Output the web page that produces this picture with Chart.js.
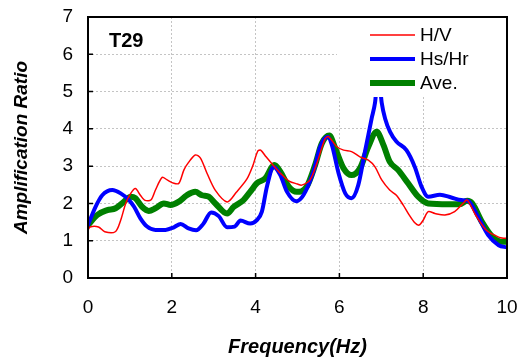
<!DOCTYPE html>
<html>
<head>
<meta charset="utf-8">
<script src="https://cdn.jsdelivr.net/npm/chart.js@4.4.0/dist/chart.umd.min.js"></script>
<style>
    html, body { margin: 0; padding: 0; background: #fff; }
</style>
</head>
<body>
<canvas id="ampChart" width="520" height="362"></canvas>
<script>
// Station name shown in the corner
const stationLabel = 'T29';

// H/V spectral ratio
const hvFreq = [0, 0.05, 0.25, 0.4, 0.65, 0.78, 0.9, 1.02, 1.13, 1.25, 1.35, 1.5, 1.61, 1.77, 1.89, 2.05, 2.17, 2.29, 2.4, 2.56, 2.68, 2.84, 3.04, 3.32, 3.54, 3.79, 3.93, 4.05, 4.12, 4.25, 4.4, 4.6, 4.8, 5.0, 5.1, 5.3, 5.46, 5.66, 5.74, 5.94, 6.1, 6.29, 6.49, 6.69, 6.85, 7.01, 7.2, 7.36, 7.52, 7.66, 7.8, 7.9, 8.0, 8.12, 8.28, 8.52, 8.75, 8.95, 9.05, 9.25, 9.5, 9.74, 9.88, 10];
const hvRatio = [1.28, 1.37, 1.37, 1.24, 1.24, 1.55, 2.0, 2.27, 2.4, 2.22, 2.09, 2.09, 2.36, 2.7, 2.63, 2.54, 2.54, 2.9, 3.1, 3.3, 3.22, 2.81, 2.35, 2.04, 2.3, 2.65, 3.0, 3.4, 3.43, 3.25, 3.05, 2.8, 2.6, 2.52, 2.49, 2.63, 3.07, 3.74, 3.79, 3.52, 3.43, 3.39, 3.25, 3.16, 2.98, 2.63, 2.36, 2.22, 1.96, 1.7, 1.48, 1.42, 1.55, 1.78, 1.73, 1.69, 1.78, 2.0, 2.09, 1.69, 1.29, 1.13, 1.07, 1.07];

// Hs/Hr spectral ratio
const hsFreq = [0, 0.18, 0.34, 0.58, 0.78, 0.98, 1.1, 1.25, 1.41, 1.61, 1.85, 2.05, 2.21, 2.4, 2.58, 2.75, 2.94, 3.12, 3.32, 3.5, 3.64, 3.87, 4.03, 4.15, 4.27, 4.43, 4.59, 4.75, 4.97, 5.14, 5.38, 5.54, 5.72, 5.82, 5.98, 6.14, 6.29, 6.45, 6.61, 6.69, 6.77, 6.85, 6.93, 7.01, 7.09, 7.21, 7.36, 7.6, 7.8, 7.96, 8.12, 8.4, 8.67, 8.91, 9.07, 9.31, 9.55, 9.8, 10];
const hsRatio = [1.42, 1.91, 2.22, 2.36, 2.27, 2.09, 1.91, 1.6, 1.38, 1.29, 1.29, 1.36, 1.45, 1.33, 1.28, 1.45, 1.76, 1.66, 1.36, 1.38, 1.54, 1.46, 1.55, 1.78, 2.45, 2.98, 2.76, 2.31, 2.06, 2.22, 2.85, 3.52, 3.79, 3.57, 2.81, 2.27, 2.14, 2.49, 3.39, 3.83, 4.28, 4.7, 5.5, 4.7, 4.28, 3.92, 3.66, 3.43, 2.98, 2.45, 2.18, 2.23, 2.16, 2.09, 2.07, 1.64, 1.15, 0.88, 0.82];

// Average of the two
const aveFreq = [0, 0.22, 0.46, 0.66, 0.86, 1.02, 1.13, 1.29, 1.45, 1.61, 1.81, 1.97, 2.17, 2.36, 2.56, 2.72, 2.88, 3.04, 3.32, 3.48, 3.71, 3.87, 4.03, 4.23, 4.45, 4.59, 4.79, 4.98, 5.22, 5.42, 5.58, 5.76, 5.9, 6.1, 6.29, 6.49, 6.69, 6.89, 7.05, 7.2, 7.4, 7.64, 7.88, 8.12, 8.6, 8.87, 9.05, 9.17, 9.4, 9.65, 9.88, 10];
const aveRatio = [1.42, 1.69, 1.82, 1.87, 2.05, 2.18, 2.14, 1.91, 1.8, 1.87, 2.0, 1.96, 2.05, 2.22, 2.31, 2.22, 2.18, 2.0, 1.73, 1.91, 2.09, 2.31, 2.54, 2.67, 3.03, 2.85, 2.45, 2.31, 2.45, 3.03, 3.61, 3.82, 3.48, 2.94, 2.76, 2.94, 3.52, 3.92, 3.57, 3.12, 2.9, 2.54, 2.18, 2.0, 1.98, 1.98, 2.07, 2.0, 1.51, 1.11, 0.97, 0.97];

const FONT = "'Liberation Sans', Arial, sans-serif";

function toPoints(xs, ys) {
    return xs.map((x, i) => ({ x: x, y: ys[i] }));
}

// frame, inward ticks, boxed legend and station label
const decorPlugin = {
    id: 'decor',
    afterDatasetsDraw(chart) {
        const ctx = chart.ctx;
        const area = chart.chartArea;
        const xs = chart.scales.x;
        const ys = chart.scales.y;

        ctx.save();
        // legend box (white, hides what is under it)
        const boxW = 170, boxH = 80;
        const bx = area.right - boxW, by = area.top;
        ctx.fillStyle = '#fff';
        ctx.fillRect(bx, by, boxW, boxH);

        chart.data.datasets.forEach((ds, i) => {
            const ly = by + 18 + i * 24;
            ctx.strokeStyle = ds.borderColor;
            ctx.lineWidth = ds.borderWidth;
            ctx.beginPath();
            ctx.moveTo(bx + 33, ly);
            ctx.lineTo(bx + 78, ly);
            ctx.stroke();
            ctx.fillStyle = '#000';
            ctx.font = '19px ' + FONT;
            ctx.textBaseline = 'middle';
            ctx.textAlign = 'left';
            ctx.fillText(ds.label, bx + 83, ly + 1);
        });

        // station label
        ctx.font = 'bold 20px ' + FONT;
        ctx.textBaseline = 'middle';
        ctx.fillText(stationLabel, area.left + 21, area.top + 24);

        // inward tick marks
        ctx.strokeStyle = '#000';
        ctx.lineWidth = 1.5;
        ctx.beginPath();
        ys.ticks.forEach(t => {
            const py = ys.getPixelForValue(t.value);
            ctx.moveTo(area.left, py);
            ctx.lineTo(area.left + 5, py);
        });
        xs.ticks.forEach(t => {
            const px = xs.getPixelForValue(t.value);
            ctx.moveTo(px, area.bottom);
            ctx.lineTo(px, area.bottom - 5);
        });
        ctx.stroke();

        // plot frame
        ctx.lineWidth = 2;
        ctx.strokeRect(area.left, area.top, area.right - area.left, area.bottom - area.top);
        ctx.restore();
    }
};

const ctx = document.getElementById('ampChart').getContext('2d');
const ampChart = new Chart(ctx, {
    type: 'line',
    data: {
        datasets: [{
            label: 'H/V',
            data: toPoints(hvFreq, hvRatio),
            borderColor: '#ff0000',
            borderWidth: 1.5,
            tension: 0.3
        }, {
            label: 'Hs/Hr',
            data: toPoints(hsFreq, hsRatio),
            borderColor: '#0000ff',
            borderWidth: 4,
            cubicInterpolationMode: 'monotone'
        }, {
            label: 'Ave.',
            data: toPoints(aveFreq, aveRatio),
            borderColor: '#008000',
            borderWidth: 6,
            cubicInterpolationMode: 'monotone'
        }]
    },
    options: {
        responsive: false,
        animation: false,
        events: [],
        elements: {
            point: { radius: 0 },
            line: { borderCapStyle: 'round', borderJoinStyle: 'round' }
        },
        layout: {
            padding: { top: 17, right: 13, left: 0, bottom: 0 }
        },
        scales: {
            x: {
                type: 'linear',
                min: 0,
                max: 10,
                afterFit: s => { s.height = 84; s.paddingLeft = 0; s.paddingRight = 0; },
                ticks: {
                    stepSize: 2,
                    color: '#000',
                    padding: 18,
                    maxRotation: 0,
                    font: { family: FONT, size: 19 }
                },
                grid: { color: '#c4c4c4', lineWidth: 1, drawTicks: false },
                border: { display: false, dash: [2, 2] },
                title: {
                    display: true,
                    text: 'Frequency(Hz)',
                    color: '#000',
                    padding: { top: 3, bottom: 3 },
                    font: { family: FONT, size: 20, weight: 'bold', style: 'italic' }
                }
            },
            y: {
                min: 0,
                max: 7,
                afterFit: s => { s.width = 88; s.paddingTop = 0; s.paddingBottom = 0; },
                ticks: {
                    stepSize: 1,
                    color: '#000',
                    padding: 15,
                    font: { family: FONT, size: 19 }
                },
                grid: { color: '#c4c4c4', lineWidth: 1, drawTicks: false },
                border: { display: false, dash: [2, 2] },
                title: {
                    display: true,
                    text: 'Amplification Ratio',
                    color: '#000',
                    padding: { top: 10, bottom: 10 },
                    font: { family: FONT, size: 19, weight: 'bold', style: 'italic' }
                }
            }
        },
        plugins: {
            legend: { display: false },
            tooltip: { enabled: false }
        }
    },
    plugins: [decorPlugin]
});
</script>
</body>
</html>
